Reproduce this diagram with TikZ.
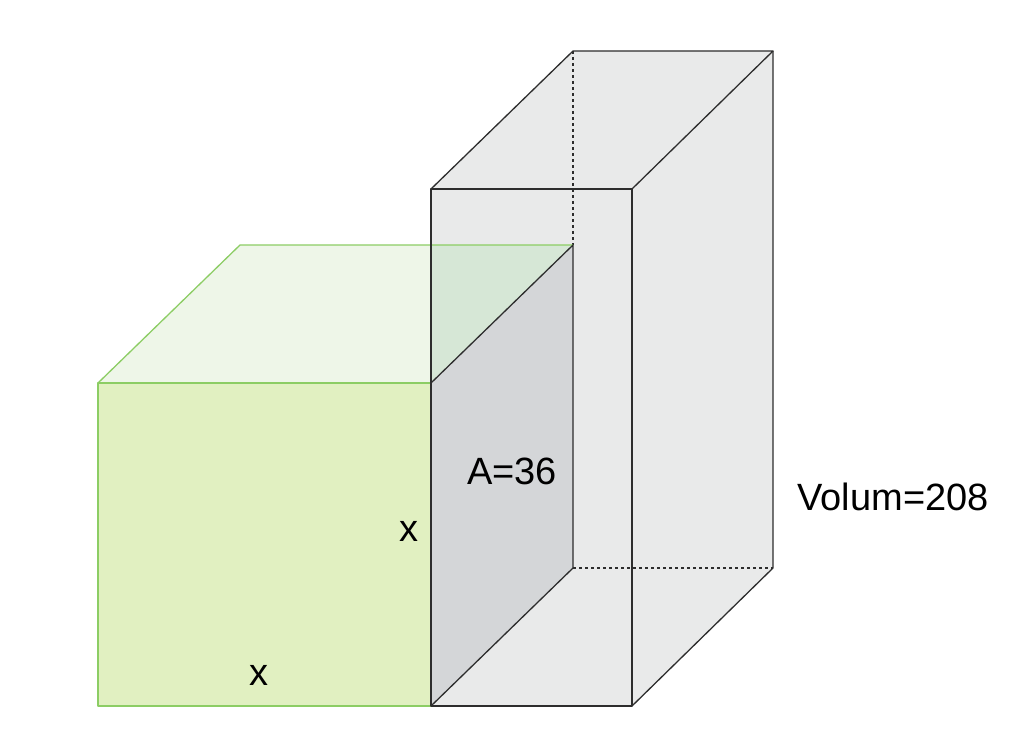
\documentclass[tikz,border=0pt]{standalone}
\usepackage{fontspec}
\setmainfont{Liberation Sans}
\definecolor{boxf}{RGB}{233,234,234}
\definecolor{sharef}{RGB}{212,214,216}
\definecolor{gfront}{RGB}{225,240,193}
\definecolor{gtop}{RGB}{238,246,232}
\definecolor{gover}{RGB}{214,231,214}
\definecolor{gline}{RGB}{140,205,100}
\definecolor{dline}{RGB}{45,45,45}
\begin{document}
\begin{tikzpicture}[x=1pt,y=-1pt,
  edge/.style={draw=dline,line width=1.3pt,line join=round},
  gedge/.style={draw=gline,line width=1.3pt,line join=round},
  hid/.style={draw=dline,line width=1.1pt,dashed},
  lbl/.style={font=\fontsize{38}{40}\selectfont,inner sep=0pt}]
\useasboundingbox (0,0) rectangle (1024,735);
% box faces
\fill[boxf] (431,189)--(573,51)--(773,51)--(773,568)--(632,706)--(431,706)--cycle;
% green top
\fill[gtop] (98,383)--(240,245)--(573,245)--(431,383)--cycle;
\fill[gover] (431,245)--(573,245)--(431,383)--cycle;
% shared face
\fill[sharef] (431,383)--(573,245)--(573,568)--(431,706)--cycle;
% green front
\fill[gfront] (98,383) rectangle (431,706);
% hidden edges
\draw[hid] (573,51)--(573,245);
\draw[hid] (573,568)--(773,568);
% green edges
\draw[gedge] (431,706)--(98,706)--(98,383)--(431,383);
\draw[gedge] (98,383)--(240,245)--(573,245);
% box edges
\draw[edge] (431,706)--(431,189)--(632,189)--(632,706)--cycle;
\draw[edge] (431,189)--(573,51)--(773,51)--(632,189);
\draw[edge] (773,51)--(773,568)--(632,706);
\draw[edge] (431,383)--(573,245)--(573,568)--(431,706);
% labels
\node[lbl] (a) at (512,471) {A=36};
\node[lbl] (v) at (893,497) {Volum=208};
\node[lbl] (x1) at (409,531) {x};
\node[lbl] (x2) at (259,675) {x};
\end{tikzpicture}
\end{document}
